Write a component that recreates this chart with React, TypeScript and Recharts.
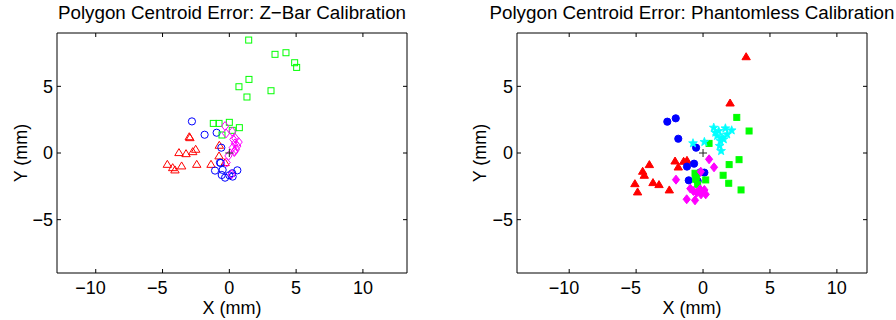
import { ScatterChart, Scatter, XAxis, YAxis } from "recharts";

// tick values shared by both panels
const xTicks = [-10, -5, 0, 5, 10];
const yTicks = [-5, 0, 5];

// Z-Bar calibration, centroid errors (mm) per target
const zbarRed: [number, number][] = [
  [-3.0, 1.22], [-2.95, 1.15], [-3.77, 0.03], [-3.24, -0.05], [-2.74, 0.1], [-2.52, 0.28],
  [-4.64, -0.85], [-4.24, -1.1], [-4.07, -1.27], [-3.57, -0.97], [-2.44, -0.85], [-1.37, -0.85],
  [-0.75, 0.58], [-0.77, -0.22], [-0.32, -0.72],
];
const zbarBlue: [number, number][] = [
  [-2.8, 2.37], [-1.85, 1.37], [-0.95, 1.52], [-0.6, 0.4], [-0.7, -0.72], [-1.07, -1.32],
  [-0.5, -1.27], [-0.57, -1.65], [-0.32, -1.85], [0, -1.67], [0.22, -1.52], [0.25, -1.77],
  [0.6, -1.3], [-0.65, -0.75],
];
const zbarGreen: [number, number][] = [
  [1.45, 8.47], [3.42, 7.4], [4.24, 7.52], [4.89, 6.77], [5.04, 6.42], [1.47, 5.52],
  [0.72, 4.97], [3.12, 4.67], [1.32, 4.2], [-1.2, 2.22], [-0.77, 2.22], [0, 2.3],
  [0.75, 1.9], [0.22, 1.7], [-0.55, 1.35],
];
const zbarMagenta: [number, number][] = [
  [-0.32, 2.02], [-0.25, 1.47], [0.22, 1.6], [0.3, 1.02], [0.42, 0.72], [0.7, 0.82],
  [0.25, 0.4], [0.5, 0.27], [0.37, 0.07], [-0.07, -0.22], [-0.2, -0.72], [0.17, -1.6],
  [0.6, 0.52], [0.45, 1.1], [0.4, 0.15],
];

// Phantomless calibration
const phRed: [number, number][] = [
  [3.22, 7.22], [2.02, 3.75], [-4.01, -0.87], [-4.51, -1.37], [-4.39, -1.67], [-5.09, -2.3],
  [-4.89, -2.92], [-3.74, -2.22], [-3.29, -2.37], [-2.52, -2.77], [-2.09, -0.6], [-1.85, -1.05],
  [-1.45, -0.62], [-1.2, -0.55],
];
const phBlue: [number, number][] = [
  [-2.67, 2.35], [-2.04, 2.6], [-1.85, 1.07], [-0.52, 0.4], [-0.67, -0.8], [-1.2, -1.02],
  [0.1, -1.47], [-1.07, -2.05], [-0.4, -2.1], [-0.2, -1.45],
];
const phGreen: [number, number][] = [
  [2.52, 2.67], [3.44, 1.65], [0.45, 0.72], [2.69, -0.5], [1.95, -0.87], [1.5, -1.67],
  [1.92, -2.27], [2.84, -2.77], [0.2, -2.02], [-0.6, -1.52], [-0.55, -1.97], [-0.4, -2.35],
  [-0.5, -1.8],
];
const phMagenta: [number, number][] = [
  [0.45, -0.47], [0.82, -1.07], [-2.02, -2.0], [-0.17, -1.4], [-0.95, -2.67], [-0.72, -2.85],
  [-1.22, -3.47], [-0.6, -3.55], [-0.15, -3.1], [0.1, -2.77], [0.2, -3.1], [-0.22, -2.72],
  [-0.47, -2.97],
];
const phCyan: [number, number][] = [
  [-0.75, 0.73], [0.1, 0.83], [0.8, 1.9], [1.17, 1.65], [1.67, 1.85], [2.14, 1.7],
  [1.05, 1.28], [1.42, 1.15], [1.3, 0.9], [1.55, 1.03], [1.24, 0.53], [1.35, 0.15],
  [0.92, 1.53], [1.8, 1.4],
];
const origin: [number, number][] = [[0, 0]];

const FONT = "'Liberation Sans', Arial, Helvetica, sans-serif";
const toPts = (a: [number, number][]) => a.map(([x, y]) => ({ x, y }));

type MarkerKind = "triangle" | "circle" | "square" | "diamond" | "star" | "plus";

const marker = (kind: MarkerKind, color: string, filled: boolean) => (p: any) => {
  const { cx, cy } = p;
  if (cx == null || cy == null) return <g />;
  const fill = filled ? color : "none";
  switch (kind) {
    case "triangle": {
      const w = 4.2;
      return (
        <path d={`M${cx},${cy - 4}L${cx + w},${cy + 3}L${cx - w},${cy + 3}Z`} fill={fill} stroke={color} strokeWidth={1} />
      );
    }
    case "circle":
      return <circle cx={cx} cy={cy} r={3.6} fill={fill} stroke={color} strokeWidth={1} />;
    case "square":
      return <rect x={cx - 3} y={cy - 3} width={6} height={6} fill={fill} stroke={color} strokeWidth={1} />;
    case "diamond": {
      const w = 3.6, h = 4.5;
      return (
        <path d={`M${cx},${cy - h}L${cx + w},${cy}L${cx},${cy + h}L${cx - w},${cy}Z`} fill={fill} stroke={color} strokeWidth={1} />
      );
    }
    case "star": {
      let d = "";
      for (let i = 0; i < 10; i++) {
        const r = i % 2 === 0 ? 4.6 : 1.9;
        const a = -Math.PI / 2 + (i * Math.PI) / 5;
        d += `${i === 0 ? "M" : "L"}${cx + r * Math.cos(a)},${cy + r * Math.sin(a)}`;
      }
      return <path d={d + "Z"} fill={fill} stroke={color} strokeWidth={0.8} />;
    }
    default:
      return (
        <path d={`M${cx - 4},${cy}L${cx + 4},${cy}M${cx},${cy - 4}L${cx},${cy + 4}`} stroke={color} strokeWidth={1} />
      );
  }
};

const hidden = () => <g />;
const noLabel = () => <g />;

// MATLAB centres the digits and lets the minus sign hang to the left
const XTick = (props: any) => {
  const { x, y, payload } = props;
  const v = payload.value as number;
  const digits = String(Math.abs(v));
  const w = digits.length * 10;
  return (
    <text x={v < 0 ? x + w / 2 : x} y={y} dy="0.71em" textAnchor={v < 0 ? "end" : "middle"} fill="#000" fontSize={18} fontFamily={FONT}>
      {v < 0 ? `\u2212${digits}` : digits}
    </text>
  );
};

const fmt = (v: number) => (v < 0 ? `\u2212${-v}` : `${v}`);

interface Series {
  name: string;
  data: [number, number][];
  kind: MarkerKind;
  color: string;
  filled: boolean;
}

interface PanelProps {
  title: string;
  xDomain: [number, number];
  yAxisWidth: number;
  rightMargin: number;
  yLabelOffset: number;
  series: Series[];
}

const Panel = ({ title, xDomain, yAxisWidth, rightMargin, yLabelOffset, series }: PanelProps) => {
  const plotCenter = yAxisWidth + (448 - yAxisWidth - rightMargin) / 2;
  return (
    <div style={{ position: "relative", width: 448, height: 320 }}>
      <div
        style={{
          position: "absolute",
          left: plotCenter - 300,
          width: 600,
          top: 3,
          textAlign: "center",
          fontSize: 18.8,
          lineHeight: "19px",
          whiteSpace: "nowrap",
          color: "#000",
        }}
      >
        {title}
      </div>
      <ScatterChart width={448} height={320} margin={{ top: 32, right: rightMargin - 1, bottom: 0, left: 0 }}>
        <XAxis
          type="number"
          dataKey="x"
          domain={xDomain}
          ticks={xTicks}
          allowDataOverflow
          height={47}
          stroke="#000"
          tickSize={-4}
          tickMargin={12.5}
          tick={<XTick />}
          label={{ value: "X (mm)", position: "insideBottom", offset: 6, fill: "#000", fontSize: 18 }}
        />
        <XAxis
          xAxisId="top"
          orientation="top"
          type="number"
          dataKey="x"
          domain={xDomain}
          ticks={xTicks}
          allowDataOverflow
          height={1}
          stroke="#000"
          tickSize={-4}
          tick={noLabel}
        />
        <YAxis
          type="number"
          dataKey="y"
          domain={[-9, 9]}
          ticks={yTicks}
          allowDataOverflow
          width={yAxisWidth}
          stroke="#000"
          tickSize={-4}
          tickMargin={8}
          tickFormatter={fmt}
          tick={{ fill: "#000", fontSize: 18 }}
          label={{ value: "Y (mm)", angle: -90, position: "insideLeft", offset: yLabelOffset, fill: "#000", fontSize: 18, style: { textAnchor: "middle" } }}
        />
        <YAxis
          yAxisId="right"
          orientation="right"
          type="number"
          dataKey="y"
          domain={[-9, 9]}
          ticks={yTicks}
          allowDataOverflow
          width={1}
          stroke="#000"
          tickSize={-4}
          tick={noLabel}
        />
        {series.map((s) => (
          <Scatter key={s.name} name={s.name} data={toPts(s.data)} shape={marker(s.kind, s.color, s.filled)} isAnimationActive={false} />
        ))}
        {/* binds the box axes (top/right) so Recharts draws them */}
        <Scatter name="box" xAxisId="top" yAxisId="right" data={toPts(origin)} shape={hidden} isAnimationActive={false} />
      </ScatterChart>
    </div>
  );
};

const zbarSeries: Series[] = [
  { name: "zr", data: zbarRed, kind: "triangle", color: "#ff0000", filled: false },
  { name: "zb", data: zbarBlue, kind: "circle", color: "#0000ff", filled: false },
  { name: "zg", data: zbarGreen, kind: "square", color: "#00ff00", filled: false },
  { name: "zm", data: zbarMagenta, kind: "diamond", color: "#ff00ff", filled: false },
  { name: "zo", data: origin, kind: "plus", color: "#222", filled: false },
];

const phSeries: Series[] = [
  { name: "pr", data: phRed, kind: "triangle", color: "#ff0000", filled: true },
  { name: "pb", data: phBlue, kind: "circle", color: "#0000ff", filled: true },
  { name: "pg", data: phGreen, kind: "square", color: "#00ff00", filled: true },
  { name: "pm", data: phMagenta, kind: "diamond", color: "#ff00ff", filled: true },
  { name: "pc", data: phCyan, kind: "star", color: "#00ffff", filled: true },
  { name: "po", data: origin, kind: "plus", color: "#222", filled: false },
];

export default function App() {
  return (
    <div
      style={{
        position: "fixed",
        left: 0,
        top: 0,
        width: 896,
        height: 320,
        overflow: "hidden",
        background: "#fff",
        display: "flex",
        fontFamily: FONT,
      }}
    >
      <Panel
        title="Polygon Centroid Error: Z−Bar Calibration"
        xDomain={[-12.9, 13.3]}
        yAxisWidth={57}
        rightMargin={41}
        yLabelOffset={21}
        series={zbarSeries}
      />
      <Panel
        title="Polygon Centroid Error: Phantomless Calibration"
        xDomain={[-13.9, 12.25]}
        yAxisWidth={69}
        rightMargin={29}
        yLabelOffset={32}
        series={phSeries}
      />
    </div>
  );
}
